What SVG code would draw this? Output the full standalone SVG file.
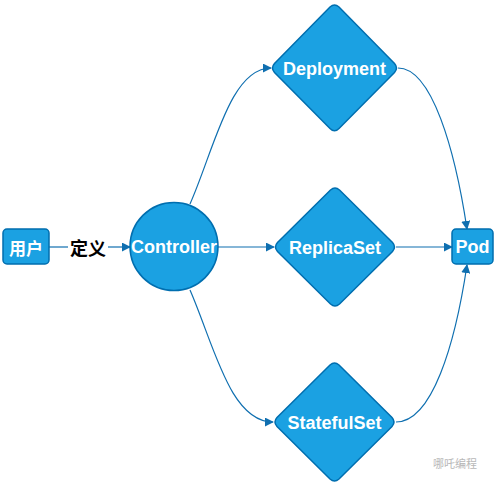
<svg xmlns="http://www.w3.org/2000/svg" width="494" height="487" viewBox="0 0 494 487">
<defs>
<style>
.n{fill:#1ba1e2;stroke:#006eaf;stroke-width:1.5}
.t{fill:#fff;font-family:"Liberation Sans","Noto Sans CJK SC",Arial,sans-serif;font-weight:bold;font-size:18px;text-anchor:middle;dominant-baseline:central}
.c{fill:none;stroke:#0f6fb0;stroke-width:1.2}
</style>
<marker id="a" viewBox="0 0 10 10" refX="9" refY="5" markerWidth="9" markerHeight="9" markerUnits="userSpaceOnUse" orient="auto">
<path d="M0,0 L10,5 L0,10 Z" fill="#0f6fb0"/>
</marker>
</defs>
<rect width="494" height="487" fill="#fff"/>
<g id="connectors">
<path class="c" d="M49,247 H68"/>
<path class="c" d="M108,247 H130" marker-end="url(#a)"/>
<path class="c" d="M218,247 H274" marker-end="url(#a)"/>
<path class="c" d="M396,247 H452" marker-end="url(#a)"/>
<path class="c" d="M190,204 C214,150 230,68 271,68" marker-end="url(#a)"/>
<path class="c" d="M190,290 C214,345 230,422 273,422" marker-end="url(#a)"/>
<path class="c" d="M398,68 C432,68 455,150 467,229" marker-end="url(#a)"/>
<path class="c" d="M396,422 C432,422 455,345 467,265" marker-end="url(#a)"/>
<text x="88" y="247" style="font-family:'Noto Sans CJK SC',sans-serif;font-weight:bold;font-size:18px;text-anchor:middle;dominant-baseline:central" fill="#000">定义</text>
</g>
<g id="user">
<rect class="n" x="3" y="229" width="46" height="35" rx="4"/>
<text class="t" x="26" y="247" style="font-family:'Noto Sans CJK SC',sans-serif;font-size:17px">用户</text>
</g>
<g id="controller">
<circle class="n" cx="174" cy="246.5" r="44"/>
<text class="t" x="174" y="247">Controller</text>
</g>
<g id="deployment">
<path class="n" d="M330,7 Q334.5,3 339,7 L394.5,63.5 Q398.5,68 394.5,72.5 L339,128.5 Q334.5,133 330,128.5 L274.5,72.5 Q270.5,68 274.5,63.5 Z"/>
<text class="t" x="334.5" y="69">Deployment</text>
</g>
<g id="replicaset">
<path class="n" d="M330.5,190 Q335,186 339.5,190 L392.5,242.5 Q396.5,247 392.5,251.5 L339.5,304 Q335,308 330.5,304 L277.5,251.5 Q273.5,247 277.5,242.5 Z"/>
<text class="t" x="335" y="248">ReplicaSet</text>
</g>
<g id="statefulset">
<path class="n" d="M330,365 Q334.5,361 339,365 L392,417.5 Q396,422 392,426.5 L339,479 Q334.5,483 330,479 L277,426.5 Q273,422 277,417.5 Z"/>
<text class="t" x="334.5" y="423">StatefulSet</text>
</g>
<g id="pod">
<rect class="n" x="452" y="229" width="41" height="35" rx="4"/>
<text class="t" x="472.5" y="247">Pod</text>
</g>
<text x="455" y="463" style="font-family:'Noto Sans CJK SC',sans-serif;font-size:11px;text-anchor:middle;dominant-baseline:central" fill="#b8b8b8">哪吒编程</text>
</svg>
